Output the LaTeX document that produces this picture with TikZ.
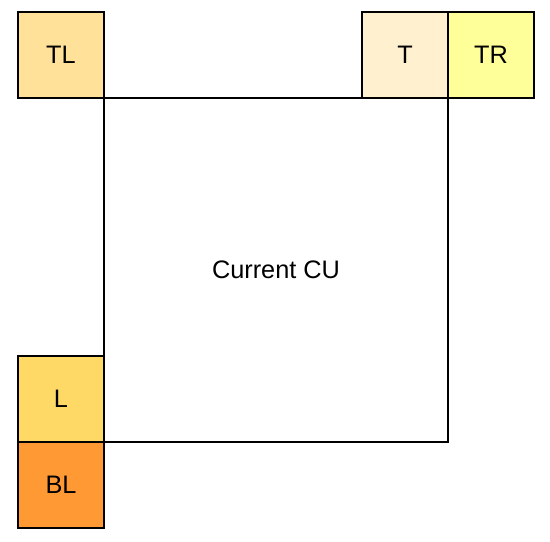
\documentclass[tikz,border=0pt]{standalone}
\usepackage{fontspec}
\setmainfont{Liberation Sans}
\usetikzlibrary{positioning}
\definecolor{cutl}{RGB}{255,225,153}
\definecolor{cut}{RGB}{255,241,208}
\definecolor{cutr}{RGB}{255,255,153}
\definecolor{cul}{RGB}{255,217,102}
\definecolor{cubl}{RGB}{255,153,51}

\begin{document}
\begin{tikzpicture}[
    node distance=0cm,
    nbr/.style={
        draw,
        line width=1.4pt,
        minimum size=2.15cm,
        inner sep=0pt,
        outer sep=0pt,
        font=\fontsize{18}{20}\selectfont
    }
]

\useasboundingbox (0,0) rectangle (13.75,13.55);

% Current block
\node[
    draw,
    line width=1.4pt,
    minimum size=8.6cm,
    inner sep=0pt,
    outer sep=0pt,
    font=\fontsize{18}{20}\selectfont
] (cu)
at (6.9,6.8)
{Current CU};

% Neighbouring blocks
\node[nbr, fill=cutl, anchor=south east] (tl) at (cu.north west) {TL};
\node[nbr, fill=cut, anchor=south east] (t) at (cu.north east) {T};
\node[nbr, fill=cutr, right=of t] (tr) {TR};
\node[nbr, fill=cul, anchor=south east] (l) at (cu.south west) {L};
\node[nbr, fill=cubl, below=of l] (bl) {BL};
\end{tikzpicture}
\end{document}
